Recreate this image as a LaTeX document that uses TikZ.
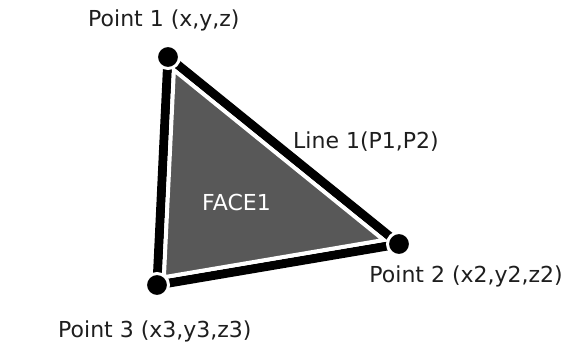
\documentclass[tikz,border=0pt]{standalone}
\usepackage{fontspec}
\setmainfont{DejaVu Sans}
\definecolor{facegray}{RGB}{88,88,88}
\definecolor{ink}{RGB}{30,30,30}
\begin{document}
\begin{tikzpicture}[x=1pt,y=-1pt,
  lbl/.style={inner sep=0pt, text=ink, font=\fontsize{22}{26}\selectfont},
  vdot/.style={circle, fill=black, draw=white, line width=3pt, minimum size=23pt, inner sep=0pt},
  edgeline/.style={line width=9pt, draw=black},
  facefill/.style={fill=facegray, draw=white, line width=4pt, line join=miter}]
\useasboundingbox[fill=white] (0,0) rectangle (570,342);
\coordinate (p1) at (168,57);
\coordinate (p2) at (399,244);
\coordinate (p3) at (157,285);
\coordinate (i1) at (173.9,70.1);
\coordinate (i2) at (383.7,240);
\coordinate (i3) at (163.9,277.2);
\draw[edgeline] (p1) -- (p2);
\draw[edgeline] (p2) -- (p3);
\draw[edgeline] (p3) -- (p1);
\draw[facefill] (i1) -- (i2) -- (i3) -- cycle;
\node[vdot] (d1) at (p1) {};
\node[vdot] (d2) at (p2) {};
\node[vdot] (d3) at (p3) {};
\node[lbl, anchor=base west] (t1) at (88,27) {Point 1 (x,y,z)};
\node[lbl, anchor=base west] (t4) at (293,148) {Line 1(P1,P2)};
\node[lbl, anchor=base east] (t2) at (563,282) {Point 2 (x2,y2,z2)};
\node[lbl, anchor=base west] (t3) at (58,337) {Point 3 (x3,y3,z3)};
\node[lbl, anchor=base west, text=white] (face) at (202,210) {FACE1};
\end{tikzpicture}
\end{document}
